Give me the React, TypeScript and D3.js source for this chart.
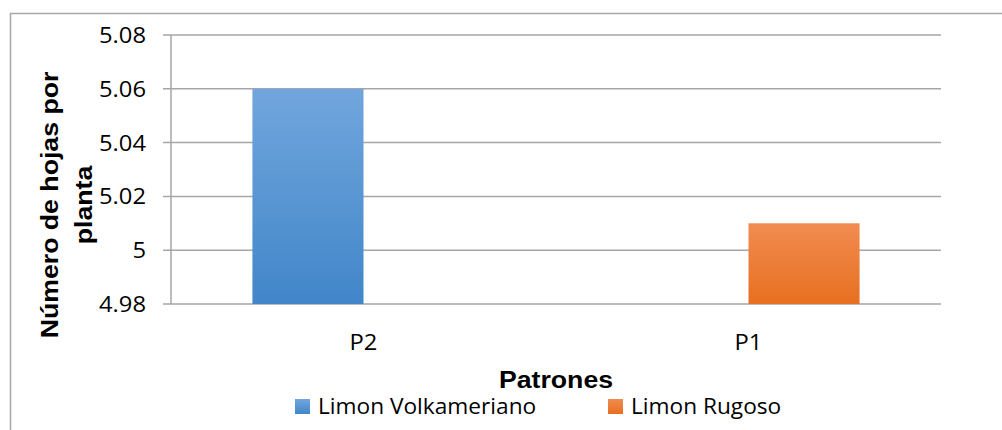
import React from "react";
import * as d3 from "d3";

const categories = ["P2", "P1"];
const seriesNames = ["Limon Volkameriano", "Limon Rugoso"];
const volkameriano: (number | null)[] = [5.06, null];
const rugoso: (number | null)[] = [null, 5.01];
const yTicks = [4.98, 5.0, 5.02, 5.04, 5.06, 5.08];
const yTickLabels = ["4.98", "5", "5.02", "5.04", "5.06", "5.08"];

export default function App() {
  const W = 1002, H = 430;
  const left = 171, right = 941, top = 35, bottom = 304;
  const y = d3.scaleLinear().domain([4.98, 5.08]).range([bottom, top]);
  const x0 = d3.scaleBand().domain(categories).range([left, right]).paddingInner(0.423).paddingOuter(0.2115);
  const x1 = d3.scaleBand().domain(seriesNames).range([0, x0.bandwidth()]);
  const series = [volkameriano, rugoso];
  const grads = ["gBlue", "gOrange"];
  const font = "'Open Sans', sans-serif";
  const bold = "'Liberation Sans', Arial, sans-serif";
  const sx = 1.08;
  const bsx = 1.16;
  return (
    <svg width={W} height={H} style={{ position: "absolute", left: 0, top: 0 }}>
      <defs>
        <linearGradient id="gBlue" x1="0" y1="0" x2="0" y2="1">
          <stop offset="0" stopColor="#71a6dd" />
          <stop offset="1" stopColor="#4186c9" />
        </linearGradient>
        <linearGradient id="gOrange" x1="0" y1="0" x2="0" y2="1">
          <stop offset="0" stopColor="#f18c51" />
          <stop offset="1" stopColor="#e76f20" />
        </linearGradient>
      </defs>
      <rect x={0} y={0} width={W} height={H} fill="#fff" />
      <path d={`M10.5,${H} V13.5 H${W}`} fill="none" stroke="#a6a6a6" strokeWidth={1.5} />
      {yTicks.map((t, i) => (
        <g key={i}>
          <line x1={163} x2={right} y1={y(t)} y2={y(t)} stroke="#a6a6a6" strokeWidth={1.5} />
          <text transform={`translate(146,${y(t) + 8}) scale(${sx},1)`} textAnchor="end" fontFamily={font} fontSize={22} fill="#000">
            {yTickLabels[i]}
          </text>
        </g>
      ))}
      <line x1={left} x2={left} y1={top} y2={bottom} stroke="#a6a6a6" strokeWidth={1.5} />
      {categories.map((c, ci) =>
        series.map((s, si) => {
          const v = s[ci];
          if (v == null) return null;
          const bx = (x0(c) as number) + (x1(seriesNames[si]) as number);
          return (
            <rect key={`${ci}-${si}`} x={bx} y={y(v)} width={x1.bandwidth()} height={y(4.98) - y(v)} fill={`url(#${grads[si]})`} />
          );
        })
      )}
      {categories.map((c) => (
        <text key={c} transform={`translate(${(x0(c) as number) + x0.bandwidth() / 2},350) scale(${sx},1)`} textAnchor="middle" fontFamily={font} fontSize={22} fill="#000">
          {c}
        </text>
      ))}
      <text transform={`translate(556,388) scale(${bsx},1)`} textAnchor="middle" fontFamily={bold} fontWeight="bold" fontSize={23} fill="#000">
        Patrones
      </text>
      <g transform="translate(58,205) rotate(-90) scale(1.16,1)">
        <text x={0} y={0} textAnchor="middle" fontFamily={bold} fontWeight="bold" fontSize={23} fill="#000">
          Número de hojas por
        </text>
        <text x={0} y={34} textAnchor="middle" fontFamily={bold} fontWeight="bold" fontSize={23} fill="#000">
          planta
        </text>
      </g>
      {seriesNames.map((n, i) => {
        const lx = [295, 608][i];
        return (
          <g key={n}>
            <rect x={lx} y={399} width={15} height={15} fill={`url(#${grads[i]})`} />
            <text transform={`translate(${lx + 23},414) scale(${sx},1)`} fontFamily={font} fontSize={21} fill="#000">
              {n}
            </text>
          </g>
        );
      })}
    </svg>
  );
}
